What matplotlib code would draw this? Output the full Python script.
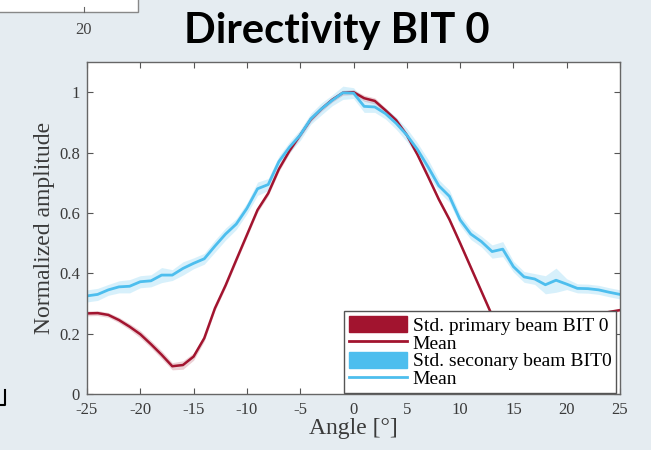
import numpy as np
import matplotlib.pyplot as plt
from matplotlib.patches import Patch, Rectangle
from matplotlib.lines import Line2D

# ─── DATA ────────────────────────────────────────────────
angles = list(range(-25, 26))

primary_mean = [0.267, 0.268, 0.262, 0.245, 0.223, 0.198, 0.165, 0.130, 0.092, 0.096,
                0.124, 0.185, 0.284, 0.360, 0.444, 0.527, 0.610, 0.665, 0.745, 0.806,
                0.858, 0.910, 0.945, 0.975, 0.998, 1.000, 0.980, 0.971, 0.940, 0.907,
                0.858, 0.793, 0.720, 0.645, 0.578, 0.500, 0.420, 0.340, 0.260, 0.190,
                0.130, 0.095, 0.085, 0.100, 0.140, 0.180, 0.220, 0.250, 0.265, 0.272,
                0.278]
primary_std = [0.008, 0.008, 0.008, 0.009, 0.010, 0.012, 0.012, 0.013, 0.012, 0.014,
               0.012, 0.010, 0.008, 0.008, 0.008, 0.008, 0.008, 0.008, 0.008, 0.008,
               0.008, 0.008, 0.008, 0.008, 0.008, 0.008, 0.010, 0.010, 0.008, 0.008,
               0.008, 0.008, 0.008, 0.008, 0.008, 0.008, 0.008, 0.008, 0.008, 0.008,
               0.008, 0.008, 0.008, 0.008, 0.008, 0.008, 0.008, 0.008, 0.006, 0.004,
               0.004]

secondary_mean = [0.325, 0.330, 0.345, 0.355, 0.357, 0.372, 0.375, 0.394, 0.394, 0.416,
                  0.433, 0.448, 0.490, 0.530, 0.563, 0.615, 0.680, 0.694, 0.770, 0.818,
                  0.858, 0.912, 0.945, 0.973, 0.998, 0.997, 0.953, 0.951, 0.929, 0.897,
                  0.858, 0.810, 0.752, 0.690, 0.655, 0.577, 0.530, 0.505, 0.472, 0.480,
                  0.422, 0.388, 0.381, 0.362, 0.377, 0.364, 0.350, 0.349, 0.345, 0.337,
                  0.330]
secondary_std = [0.020, 0.020, 0.018, 0.020, 0.022, 0.020, 0.020, 0.025, 0.018, 0.022,
                 0.018, 0.018, 0.020, 0.020, 0.018, 0.018, 0.022, 0.020, 0.018, 0.018,
                 0.018, 0.018, 0.020, 0.018, 0.022, 0.018, 0.020, 0.018, 0.018, 0.020,
                 0.022, 0.022, 0.025, 0.020, 0.020, 0.018, 0.018, 0.018, 0.022, 0.025,
                 0.018, 0.018, 0.018, 0.030, 0.040, 0.018, 0.015, 0.015, 0.015, 0.015,
                 0.015]

legend_labels = ["Std. primary beam BIT 0", "Mean",
                 "Std. seconary beam BIT0", "Mean"]

RED = "#A2142F"
BLUE = "#4DBEEE"
BG = "#E5ECF1"

plt.rcParams["font.family"] = ["Liberation Serif", "DejaVu Serif"]
plt.rcParams["axes.unicode_minus"] = False

fig = plt.figure(figsize=(6.51, 4.5), dpi=100, facecolor=BG)

# bits of the neighbouring chart on the slide
fig.patches.append(Rectangle((-0.01, 1 - 12 / 450), 145 / 651, 0.05,
                             transform=fig.transFigure, facecolor="white",
                             edgecolor="#888888", lw=1.0))
fig.lines.append(Line2D([84 / 651, 84 / 651], [1 - 12 / 450, 1 - 7 / 450],
                        transform=fig.transFigure, color="#666666", lw=0.8))
fig.text(84 / 651, 1 - 30 / 450, "20", ha="center", va="center",
         fontsize=12, color="#444444")
fig.lines.append(Line2D([0, 5 / 651, 5 / 651], [1 - 405 / 450, 1 - 405 / 450, 1 - 390 / 450],
                        transform=fig.transFigure, color="black", lw=1.5))

fig.text(337 / 651, 1 - 31 / 450, "Directivity BIT 0", ha="center", va="center",
         fontsize=30, fontweight="bold", family=["Lato", "DejaVu Sans"], color="black")

ax = fig.add_axes([87 / 651, 1 - 394 / 450, 533 / 651, 332 / 450])
ax.set_facecolor("white")

x = np.array(angles)
pm, ps = np.array(primary_mean), np.array(primary_std)
sm, ss = np.array(secondary_mean), np.array(secondary_std)

ax.fill_between(x, pm - ps, pm + ps, color=RED, alpha=0.2, lw=0)
ax.plot(x, pm, color=RED, lw=1.8)
ax.fill_between(x, sm - ss, sm + ss, color=BLUE, alpha=0.22, lw=0)
ax.plot(x, sm, color=BLUE, lw=2.0)

ax.set_xlim(-25, 25)
ax.set_ylim(0, 1.1)
ax.set_xticks(range(-25, 26, 5))
ax.set_yticks([0, 0.2, 0.4, 0.6, 0.8, 1.0])
ax.set_yticklabels(["0", "0.2", "0.4", "0.6", "0.8", "1"])
ax.tick_params(direction="in", top=True, right=True, length=4, width=0.8,
               color="#555555", labelcolor="#3a3a3a", labelsize=12)
ax.tick_params(axis="x", pad=6)
ax.tick_params(axis="y", pad=5)
for s in ax.spines.values():
    s.set_color("#666666")
    s.set_linewidth(1.0)

ax.set_xlabel("Angle [°]", fontsize=17, color="#3a3a3a", labelpad=0)
ax.set_ylabel("Normalized amplitude", fontsize=17, color="#3a3a3a", labelpad=3)

handles = [Patch(facecolor=RED, edgecolor=RED),
           Line2D([], [], color=RED, lw=2),
           Patch(facecolor=BLUE, edgecolor=BLUE),
           Line2D([], [], color=BLUE, lw=2)]
leg = ax.legend(handles, legend_labels, loc="lower right", bbox_to_anchor=(0.995, 0.0),
                fontsize=14, frameon=True, fancybox=False, framealpha=1,
                borderaxespad=0.05, handlelength=3.0, handleheight=0.9,
                labelspacing=-0.05, borderpad=0.25, handletextpad=0.3)
leg.get_frame().set_edgecolor("#555555")
leg.get_frame().set_linewidth(1.0)

fig.savefig("out.png", dpi=100, facecolor=BG)
